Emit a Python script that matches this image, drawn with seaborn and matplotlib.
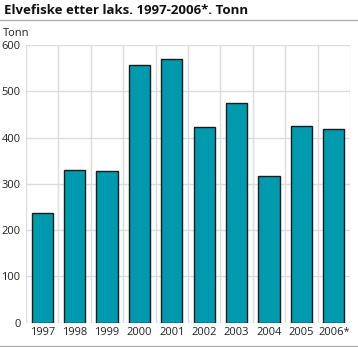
import matplotlib
matplotlib.use("Agg")
import matplotlib.pyplot as plt
from matplotlib.lines import Line2D
import seaborn as sns
import pandas as pd

years = ["1997", "1998", "1999", "2000", "2001", "2002", "2003", "2004", "2005", "2006*"]
tonn = [236, 331, 328, 557, 570, 422, 474, 318, 424, 419]
yticks = [0, 100, 200, 300, 400, 500, 600]

sns.set_theme(style="white")
plt.rcParams["font.family"] = ["Open Sans", "DejaVu Sans"]

df = pd.DataFrame({"year": years, "tonn": tonn})

fig = plt.figure(figsize=(3.58, 3.47), dpi=100)
ax = fig.add_axes([26 / 358, (347 - 322.7) / 347, 324 / 358, (322.7 - 45) / 347])

sns.barplot(data=df, x="year", y="tonn", color="#009aae", saturation=1,
            edgecolor="#1a1a1a", linewidth=1.0, width=0.65, ax=ax, zorder=3)

ax.set_ylim(0, 600)
ax.set_xlim(-0.5, len(years) - 0.5)
ax.set_yticks(yticks)
ax.set_xlabel("")
ax.set_ylabel("")

grid_col = "#dcdcdc"
for y in yticks:
    ax.axhline(y, color=grid_col, lw=1.0, zorder=1)
for i in range(len(years) + 1):
    ax.axvline(i - 0.5, color=grid_col, lw=1.0, zorder=1)

for s in ax.spines.values():
    s.set_visible(False)

ax.tick_params(axis="both", length=0, labelsize=8, colors="#222222")
ax.tick_params(axis="y", pad=4)
ax.tick_params(axis="x", pad=3)

fig.text(4 / 358, 1 - 14 / 347, "Elvefiske etter laks. 1997-2006*. Tonn",
         fontsize=9.5, fontweight="bold", color="#111111", va="baseline")
fig.text(3 / 358, 1 - 36 / 347, "Tonn", fontsize=8, color="#222222", va="baseline")

fig.add_artist(Line2D([0, 1], [1 - 20 / 347, 1 - 20 / 347], transform=fig.transFigure,
                      color="#b0b0b0", lw=1.0))
fig.add_artist(Line2D([0, 1], [1 - 345.5 / 347, 1 - 345.5 / 347], transform=fig.transFigure,
                      color="#b0b0b0", lw=1.0))

fig.savefig("out.png", dpi=100)
